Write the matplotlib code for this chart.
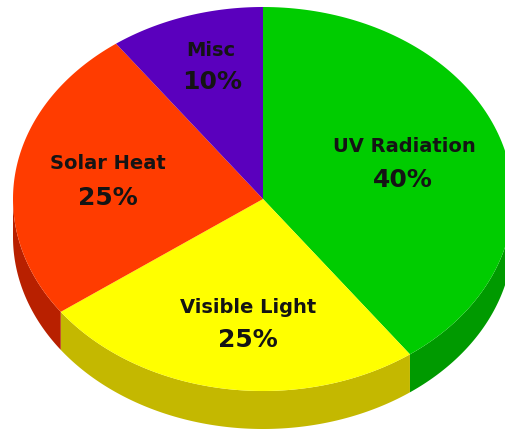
#!/usr/bin/env python3
"""Tilted 3D-look pie chart of sunlight components."""

import matplotlib
matplotlib.use("Agg")
import matplotlib.pyplot as plt
import numpy as np
from matplotlib.patches import Polygon

labels = ["UV Radiation", "Visible Light", "Solar Heat", "Misc"]
values = [40, 25, 25, 10]
top_colors = ["#00cc00", "#ffff00", "#ff3c00", "#5a00bd"]
side_colors = ["#009a00", "#c4b800", "#b82000", "#3a0080"]

W, H = 506, 431
CX, CY = 263, 200
RX, RY = 250, 192
DEPTH = 38

fig = plt.figure(figsize=(W / 100, H / 100), dpi=100)
ax = fig.add_axes([0, 0, 1, 1])
ax.set_xlim(0, W)
ax.set_ylim(H, 0)
ax.axis("off")


def ellipse_pt(deg):
    # clockwise from 12 o'clock, y axis pointing down
    a = np.radians(deg)
    return CX + RX * np.sin(a), CY - RY * np.cos(a)


start = 0.0
for val, top, side in zip(values, top_colors, side_colors):
    end = start + val * 3.6
    ts = np.linspace(start, end, 120)
    xs, ys = ellipse_pt(ts)

    # wall is only visible on the front half (90 to 270 degrees)
    lo, hi = max(start, 90), min(end, 270)
    if lo < hi:
        tw = np.linspace(lo, hi, 120)
        wx, wy = ellipse_pt(tw)
        wall = np.column_stack([np.r_[wx, wx[::-1]], np.r_[wy, wy[::-1] + DEPTH]])
        ax.add_patch(Polygon(wall, closed=True, fc=side, ec="none", zorder=1))

    face = np.column_stack([np.r_[CX, xs], np.r_[CY, ys]])
    ax.add_patch(Polygon(face, closed=True, fc=top, ec="none", zorder=2))
    start = end

text_style = dict(ha="center", va="center", family="DejaVu Sans", fontweight="bold",
                  color="#141414", zorder=3)
label_pos = {"UV Radiation": (404, 147), "Visible Light": (248, 308),
             "Solar Heat": (108, 164), "Misc": (211, 50)}
pct_pos = {"UV Radiation": (403, 180), "Visible Light": (248, 340),
           "Solar Heat": (108, 198), "Misc": (212, 82)}
for label, val in zip(labels, values):
    ax.text(*label_pos[label], label, fontsize=14, **text_style)
    ax.text(*pct_pos[label], f"{val}%", fontsize=18, **text_style)

fig.savefig("out.png", dpi=100)
